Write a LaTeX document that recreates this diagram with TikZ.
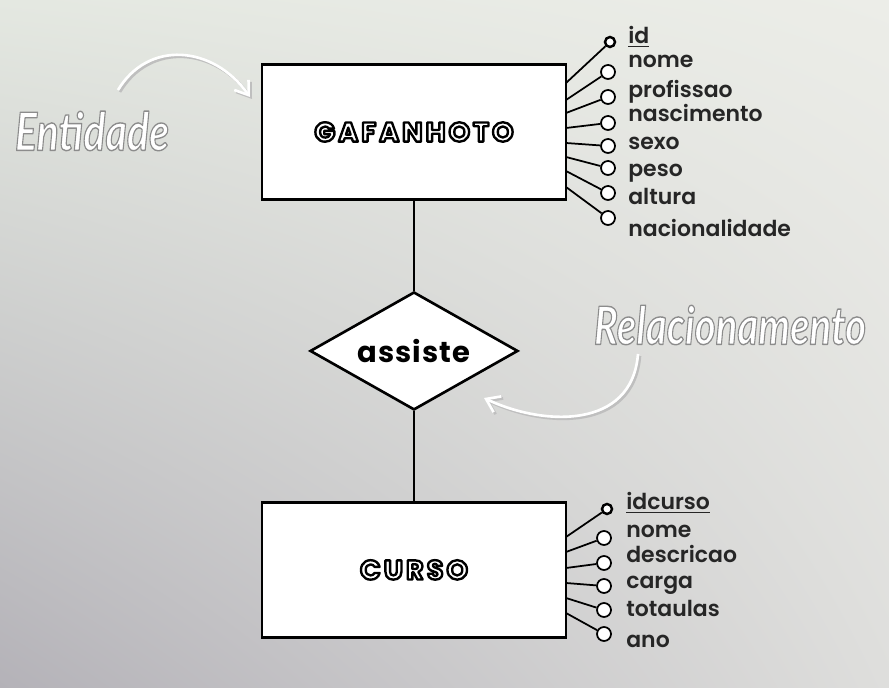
\documentclass[tikz,border=0pt]{standalone}
\usepackage{fontspec}
\usetikzlibrary{positioning,shapes.geometric,arrows.meta,shadings}
\setmainfont{Poppins}
\newfontfamily\attrfont{Poppins SemiBold}
\newfontfamily\titlefont{Poppins}[LetterSpace=11]
\newfontfamily\relfont{Poppins}[LetterSpace=4]
\newfontfamily\notefont{Lato}
\definecolor{bgtop}{RGB}{228,232,225}
\definecolor{bgright}{RGB}{236,237,232}
\definecolor{bgdark}{RGB}{180,178,184}
\definecolor{bgmid}{RGB}{222,222,220}
% letras brancas com contorno (preto ou cinza)
\newcommand{\outlined}[1]{\textcolor{white}{\special{pdf:literal direct 0 G 1.35 w 1 j 2 Tr}#1\special{pdf:literal direct 0 Tr}}}
\newcommand{\embossed}[1]{\textcolor{white}{\special{pdf:literal direct 0.55 G 0.8 w 1 j 2 Tr}#1\special{pdf:literal direct 0 Tr}}}
\tikzset{>={Straight Barb[length=2.5mm,width=3.5mm]}}
\tikzset{
  entity/.style={draw=black, line width=1.5pt, fill=white, minimum width=6.08cm, minimum height=2.7cm,
    font=\titlefont\bfseries\fontsize{15.5}{17}\selectfont},
  relation/.style={diamond, draw=black, line width=1.5pt, fill=white, minimum width=4.16cm,
    minimum height=2.36cm, inner sep=0pt, font=\relfont\bfseries\fontsize{16.5}{18}\selectfont},
  link/.style={line width=1.3pt},
  attr/.style={circle, draw=black, line width=1pt, fill=white, minimum size=0.28cm, inner sep=0pt},
  keyattr/.style={attr, line width=1.4pt, minimum size=0.2cm},
  attrline/.style={line width=1pt},
  attrlabel/.style={anchor=base west, inner sep=0pt, text=black!85,
    font=\attrfont\fontsize{12.5}{14}\selectfont},
  note/.style={font=\notefont\bfseries\itshape\fontsize{30}{32}\selectfont},
  notearrow/.style={->, white, line width=1.5pt},
  notearrowshadow/.style={->, black!25, line width=1.5pt},
}

\begin{document}
\begin{tikzpicture}[x=0.02cm, y=-0.02cm, node distance=4.38cm, on grid]
    \shade[upper left=bgtop, upper right=bgright, lower left=bgdark, lower right=bgmid]
      (0,0) rectangle (889,688);
    \useasboundingbox (0,0) rectangle (889,688);

    % entidades e relacionamento
    \node[entity] (gafanhoto) at (414,132) {\outlined{GAFANHOTO}};
    \node[relation] (assiste) [below=of gafanhoto] {\makebox[0pt]{assiste}};
    \node[entity] (curso) [below=of assiste] {\outlined{CURSO}};

    \draw[link] (gafanhoto) -- (assiste) -- (curso);

    % atributos de GAFANHOTO
    \coordinate (gs0) at (566,83);
    \node[keyattr] (ga0) at (610,42) {};
    \node[attrlabel] (gl0) at (628,44) {\underline{id}};
    \draw[attrline] (gs0) -- (ga0);
    \foreach \name/\yl/\yc/\ys [count=\i] in {nome/68/72/100, profissao/98/97/113,
        nascimento/122/123/128, sexo/150/146/143, peso/177/168/157,
        altura/205/193/171, nacionalidade/237/218/187}
    {
      \coordinate (gs\i) at (566,\ys);
      \node[attr] (ga\i) at (608,\yc) {};
      \node[attrlabel] (gl\i) at (628,\yl) {\name};
      \draw[attrline] (gs\i) -- (ga\i);
    }

    % atributos de CURSO
    \coordinate (cs0) at (566,537);
    \node[keyattr] (ca0) at (607,509) {};
    \node[attrlabel] (cl0) at (626,510) {\underline{idcurso}};
    \draw[attrline] (cs0) -- (ca0);
    \foreach \name/\yl/\yc/\ys [count=\i] in {nome/538/538/552, descricao/563/563/568,
        carga/589/586/583, totaulas/617/610/598, ano/647/634/613}
    {
      \coordinate (cs\i) at (566,\ys);
      \node[attr] (ca\i) at (604,\yc) {};
      \node[attrlabel] (cl\i) at (626,\yl) {\name};
      \draw[attrline] (cs\i) -- (ca\i);
    }

    % anotacoes
    \node[note] (entidade) at (92,131) {\scalebox{0.78}[1]{\embossed{Entidade}}};
    \node[note] (relac) at (730,325) {\scalebox{0.76}[1]{\embossed{Relacionamento}}};

    \coordinate (ea) at (118,90);
    \coordinate (eb) at (250,97);
    \coordinate (ra) at (638,354);
    \coordinate (rb) at (484,398);
    \draw[notearrowshadow] ([shift={(2,2)}]ea) .. controls (150,42) and (215,47) .. ([shift={(2,2)}]eb);
    \draw[notearrow] (ea) .. controls (148,40) and (213,45) .. (eb);
    \draw[notearrowshadow] ([shift={(2,2)}]ra) .. controls (634,432) and (545,428) .. ([shift={(2,2)}]rb);
    \draw[notearrow] (ra) .. controls (632,430) and (543,426) .. (rb);
\end{tikzpicture}
\end{document}
